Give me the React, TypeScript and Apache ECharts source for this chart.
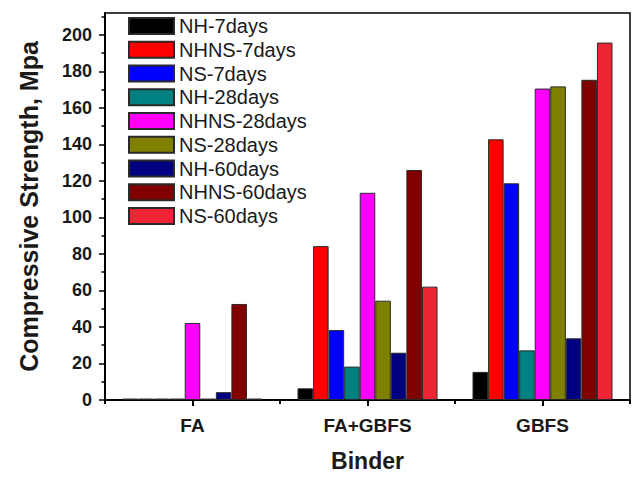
import React, { useEffect, useRef } from "react";
import * as echarts from "echarts";

// Binder types on the category axis
const binders = ["FA", "FA+GBFS", "GBFS"];

// Compressive strength (MPa) per binder: FA, FA+GBFS, GBFS
const nh7 = [0.8, 6.4, 15.4];
const nhns7 = [0.8, 84.3, 142.8];
const ns7 = [0.8, 38.3, 118.7];
const nh28 = [0.8, 18.3, 27.2];
const nhns28 = [42.2, 113.5, 170.6];
const ns28 = [0.8, 54.4, 171.8];
const nh60 = [4.3, 25.9, 33.8];
const nhns60 = [52.6, 126.0, 175.4];
const ns60 = [0.8, 62.1, 195.8];

const seriesNames = [
  "NH-7days",
  "NHNS-7days",
  "NS-7days",
  "NH-28days",
  "NHNS-28days",
  "NS-28days",
  "NH-60days",
  "NHNS-60days",
  "NS-60days",
];
const seriesValues = [nh7, nhns7, ns7, nh28, nhns28, ns28, nh60, nhns60, ns60];
const seriesColors = [
  "#000000",
  "#ff0000",
  "#0000ff",
  "#008080",
  "#ff00ff",
  "#808000",
  "#000080",
  "#800000",
  "#ee2535",
];

// Axis ticks
const yMajorTicks = [0, 20, 40, 60, 80, 100, 120, 140, 160, 180, 200];
const yMinorTicks = [10, 30, 50, 70, 90, 110, 130, 150, 170, 190, 210];
const yMax = 212;

const FONT = "Arial, 'Liberation Sans', Helvetica, sans-serif";
const INK = "#1a1a1a";

export default function App() {
  const ref = useRef<HTMLDivElement>(null);

  useEffect(() => {
    if (!ref.current) return;
    const chart = echarts.init(ref.current, undefined, { renderer: "svg" });

    const series = seriesNames.map((name, i) => ({
      name,
      type: "bar" as const,
      xAxisIndex: 0,
      yAxisIndex: 0,
      data: seriesValues[i],
      barGap: "0%",
      barCategoryGap: "20%",
      itemStyle: {
        color: seriesColors[i],
        borderColor: "#2a2a2a",
        borderWidth: 1,
      },
    }));

    chart.setOption({
      animation: false,
      backgroundColor: "#ffffff",
      textStyle: { fontFamily: FONT },
      grid: {
        left: 105,
        right: 5,
        top: 13,
        bottom: 69,
        show: true,
        borderColor: "#000",
        borderWidth: 1.5,
        containLabel: false,
      },
      legend: {
        orient: "vertical",
        left: 128,
        top: 16,
        padding: 0,
        itemWidth: 45,
        itemHeight: 16,
        itemGap: 3.75,
        icon: "rect",
        data: seriesNames,
        textStyle: {
          fontFamily: FONT,
          fontSize: 20,
          color: INK,
        },
      },
      xAxis: [
        {
          type: "category",
          position: "bottom",
          data: binders,
          axisLine: { show: true, lineStyle: { color: "#000", width: 2 } },
          axisTick: {
            show: true,
            alignWithLabel: true,
            length: 6,
            lineStyle: { color: "#000", width: 2 },
          },
          axisLabel: {
            margin: 16,
            fontSize: 19,
            fontWeight: "bold",
            color: INK,
            fontFamily: FONT,
          },
          name: "Binder",
          nameLocation: "middle",
          nameGap: 49,
          nameTextStyle: {
            fontSize: 23,
            fontWeight: "bold",
            color: INK,
            fontFamily: FONT,
          },
        },
        {
          // boundary ticks between binder groups
          type: "category",
          position: "bottom",
          data: binders,
          axisLine: { show: false },
          axisTick: {
            show: true,
            length: 4,
            lineStyle: { color: "#000", width: 2 },
          },
          axisLabel: { show: false },
        },
      ],
      yAxis: [
        {
          type: "value",
          position: "left",
          min: 0,
          max: yMax,
          splitLine: { show: false },
          axisLine: { show: true, lineStyle: { color: "#000", width: 2 } },
          axisTick: {
            show: true,
            length: 6,
            customValues: yMajorTicks,
            lineStyle: { color: "#000", width: 1.5 },
          },
          axisLabel: {
            customValues: yMajorTicks,
            margin: 13,
            fontSize: 18,
            fontWeight: "bold",
            color: INK,
            fontFamily: FONT,
          },
          name: "Compressive Strength, Mpa",
          nameLocation: "middle",
          nameGap: 64,
          nameTextStyle: {
            fontSize: 25,
            fontWeight: "bold",
            color: INK,
            fontFamily: FONT,
          },
        },
        {
          // minor ticks at the odd tens
          type: "value",
          position: "left",
          min: 0,
          max: yMax,
          splitLine: { show: false },
          axisLine: { show: false },
          axisTick: {
            show: true,
            length: 3.5,
            customValues: yMinorTicks,
            lineStyle: { color: "#000", width: 1.5 },
          },
          axisLabel: { show: false },
        },
      ],
      series,
    });

    return () => chart.dispose();
  }, []);

  return (
    <div
      ref={ref}
      style={{ position: "fixed", left: 0, top: 0, width: 635, height: 477 }}
    />
  );
}
